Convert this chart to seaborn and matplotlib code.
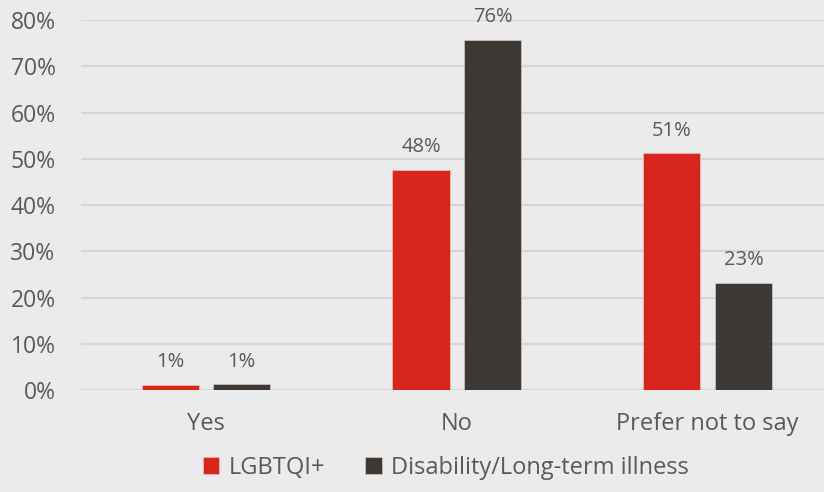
import matplotlib

matplotlib.use("Agg")
import matplotlib.pyplot as plt
import pandas as pd
import seaborn as sns

CATEGORIES = ["Yes", "No", "Prefer not to say"]
SERIES = ["LGBTQI+", "Disability/Long-term illness"]
LGBTQI = [1.2, 47.7, 51.2]
DISABILITY = [1.3, 75.8, 23.2]
Y_TICKS = [0, 10, 20, 30, 40, 50, 60, 70, 80]

COLORS = {"LGBTQI+": "#d9261c", "Disability/Long-term illness": "#3d3935"}
BG = "#ebebeb"
TEXT = "#595959"


def main():
    sns.set_theme(style="white")
    plt.rcParams["font.family"] = ["Open Sans", "DejaVu Sans"]

    df = pd.DataFrame({
        "category": CATEGORIES * 2,
        "series": [SERIES[0]] * 3 + [SERIES[1]] * 3,
        "value": LGBTQI + DISABILITY,
    })

    fig = plt.figure(figsize=(8.24, 4.92), dpi=100, facecolor=BG)
    ax = fig.add_axes([0.0977, 0.207, 0.9133, 0.752])
    ax.set_facecolor(BG)

    sns.barplot(data=df, x="category", y="value", hue="series", palette=COLORS,
                width=0.57, gap=0.2, ax=ax, order=CATEGORIES, hue_order=SERIES,
                saturation=1, zorder=3, edgecolor="#f0d0cc", linewidth=0.4)

    for cont in ax.containers:
        ax.bar_label(cont, labels=[f"{v:.0f}%" for v in cont.datavalues],
                     padding=9, fontsize=14.5, color=TEXT)

    ax.set_ylim(0, 80)
    ax.set_xlim(-0.5, 2.5)
    ax.set_yticks(Y_TICKS)
    ax.set_yticklabels([f"{t}%" for t in Y_TICKS])
    ax.yaxis.grid(True, color="#d6d6d6", linewidth=1.6, zorder=0)
    ax.set_axisbelow(True)
    ax.tick_params(axis="y", length=0, pad=18, labelsize=16.5, labelcolor=TEXT)
    ax.tick_params(axis="x", length=0, pad=16, labelsize=17, labelcolor=TEXT)
    ax.set_xlabel("")
    ax.set_ylabel("")
    for s in ax.spines.values():
        s.set_visible(False)

    handles, labels = ax.get_legend_handles_labels()
    ax.get_legend().remove()
    fig.legend(handles, labels, loc="lower center", bbox_to_anchor=(0.541, -0.018),
               ncol=2, frameon=False, fontsize=17, labelcolor=TEXT,
               handlelength=0.7, handleheight=0.7, handletextpad=0.4,
               columnspacing=1.7)

    fig.savefig("out.png", dpi=100, facecolor=BG)
    plt.close(fig)


if __name__ == "__main__":
    main()
